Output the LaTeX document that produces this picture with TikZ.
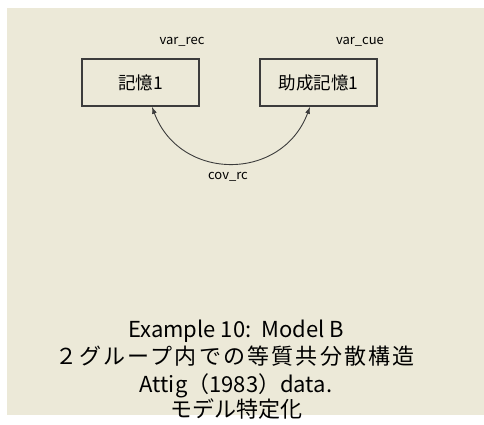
\documentclass[tikz,border=0pt]{standalone}
\usepackage{fontspec}
\setmainfont{Noto Sans CJK JP}
\newfontfamily\jpwide[LetterSpace=10]{Noto Sans CJK JP}
\usetikzlibrary{arrows.meta}
\definecolor{bg}{RGB}{236,233,216}
\definecolor{edge}{RGB}{60,60,60}
\begin{document}
\begin{tikzpicture}[x=1pt,y=-1pt,
  >={Latex[length=7pt,width=5pt]},
  box/.style={draw=edge, line width=1.6pt, minimum width=117pt, minimum height=47pt, inner sep=0pt, font=\fontsize{17.5}{20}\selectfont},
  lbl/.style={inner sep=0pt, font=\fontsize{13}{15}\selectfont},
  ttl/.style={inner sep=0pt, font=\fontsize{22}{24}\selectfont},
  covline/.style={<->, line width=0.9pt, draw=edge}]
\fill[white] (0,0) rectangle (484,425);
\fill[bg] (7,8) rectangle (484,415);
\useasboundingbox (0,0) rectangle (484,425);
\node[box] (b1) at (140.5,82.5) {記憶1};
\node[box] (b2) at (318.5,82.5) {助成記憶1};
\node[lbl] (vr) at (182,42) {var\_rec};
\node[lbl] (vc) at (360,42) {var\_cue};
\node[lbl] (cv) at (228,177) {cov\_rc};
\draw[covline]
  ([xshift=11.5pt]b1.south) .. controls +(28,75) and +(-28,75) .. ([xshift=-8.5pt]b2.south);
\node[ttl] (t1) at (236,331) {Example 10:\ \ Model B};
\node[ttl, font=\jpwide\fontsize{22}{24}\selectfont] (t2) at (235,356) {２グループ内での等質共分散構造};
\node[ttl] (t3) at (236,386) {Attig（1983）data.};
\node[ttl] (t4) at (236,409) {モデル特定化};
\end{tikzpicture}
\end{document}
